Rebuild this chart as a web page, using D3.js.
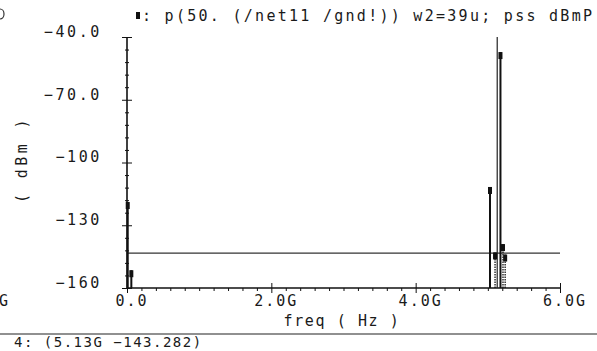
<!DOCTYPE html>
<html>
<head>
<meta charset="utf-8">
<script src="https://cdn.jsdelivr.net/npm/d3@7"></script>
<style>
  body { margin: 0; background: #fff; }
  svg { display: block; }
  text { font-family: "DejaVu Sans Mono", monospace; font-size: 14px; fill: #1a1a1a; letter-spacing: 2px; }
  .axis path, .axis line { stroke: #111; }
</style>
</head>
<body>
<svg id="chart"></svg>
<script>
const yTicks = [-40, -70, -100, -130, -160];
const yTickLabels = ["\u221240.0", "\u221270.0", "\u2212100", "\u2212130", "\u2212160"];
const xTicks = [0, 2, 4, 6];
const xTickLabels = ["0.0", "2.0G", "4.0G", "6.0G"];

// spectrum lines (GHz, dBm)
const spikeFreq = [0.01, 0.06, 5.03, 5.10, 5.175, 5.21, 5.24];
const spikeDbm = [-118.9, -151.5, -111.7, -143.0, -47.2, -139.0, -144.0];

// marker 4 cursor
const cursorFreq = 5.13;
const cursorDbm = -143.282;

const title = ": p(50. (/net11 /gnd!)) w2=39u;  pss dBmP";
const cursorText = "4: (5.13G \u2212143.282)";

const width = 597, height = 351;
const svg = d3.select("#chart").attr("width", width).attr("height", height);

const x = d3.scaleLinear().domain([0, 6]).range([127, 560]);
const y = d3.scaleLinear().domain([-160, -40]).range([288, 37]);

// minor ticks
const yMinor = d3.range(-160, -39.9, 6).filter(v => !yTicks.includes(v));
const xMinor = d3.range(0, 6.01, 0.2).filter(v => !xTicks.some(t => Math.abs(t - v) < 1e-6));

const axes = svg.append("g").attr("class", "axis");

// y axis
axes.append("g")
    .attr("transform", `translate(${x(0)},0)`)
    .call(d3.axisLeft(y).tickValues(yTicks).tickSize(5).tickPadding(20)
        .tickFormat((d, i) => yTickLabels[i]))
    .call(g => g.select(".domain").remove())
    .call(g => g.selectAll("text").attr("dy", "-0.05em")
        .attr("font-family", null).attr("font-size", null)
        .style("font-size", "15px").style("letter-spacing", "2.6px"));
axes.append("g")
    .attr("transform", `translate(${x(0)},0)`)
    .call(d3.axisRight(y).tickValues(yTicks).tickSize(5).tickFormat(""))
    .call(g => g.select(".domain").remove());
axes.append("g")
    .attr("transform", `translate(${x(0)},0)`)
    .call(d3.axisLeft(y).tickValues(yMinor).tickSize(2).tickFormat(""))
    .call(g => g.select(".domain").remove());
axes.append("g")
    .attr("transform", `translate(${x(0)},0)`)
    .call(d3.axisRight(y).tickValues(yMinor).tickSize(2).tickFormat(""))
    .call(g => g.select(".domain").remove());
axes.append("line")
    .attr("x1", x(0)).attr("x2", x(0))
    .attr("y1", y(-40)).attr("y2", y(-160))
    .attr("stroke", "#111").attr("stroke-width", 1.6);

// x axis
axes.append("g")
    .attr("transform", `translate(0,${y(-160)})`)
    .call(d3.axisBottom(x).tickValues(xTicks).tickSize(5).tickPadding(2)
        .tickFormat((d, i) => xTickLabels[i]))
    .call(g => g.select(".domain").remove())
    .call(g => g.selectAll("text").attr("dx", "0.3em")
        .attr("font-family", null).attr("font-size", null)
        .style("font-size", "15px"));
axes.append("g")
    .attr("transform", `translate(0,${y(-160)})`)
    .call(d3.axisTop(x).tickValues(xTicks).tickSize(5).tickFormat(""))
    .call(g => g.select(".domain").remove());
axes.append("g")
    .attr("transform", `translate(0,${y(-160)})`)
    .call(d3.axisBottom(x).tickValues(xMinor).tickSize(3).tickFormat(""))
    .call(g => g.select(".domain").remove());
axes.append("line")
    .attr("x1", x(0)).attr("x2", x(6))
    .attr("y1", y(-160)).attr("y2", y(-160))
    .attr("stroke", "#111").attr("stroke-width", 1.6);

// cursors
svg.append("line")
    .attr("x1", x(0)).attr("x2", x(6))
    .attr("y1", y(cursorDbm)).attr("y2", y(cursorDbm))
    .attr("stroke", "#333").attr("stroke-width", 1.3);
svg.append("line")
    .attr("x1", x(cursorFreq)).attr("x2", x(cursorFreq))
    .attr("y1", y(-40)).attr("y2", y(-160))
    .attr("stroke", "#222").attr("stroke-width", 1.2);

// spectrum lines + markers
const spikes = spikeFreq.map((f, i) => ({ f, v: spikeDbm[i] }));
const g = svg.append("g");
g.selectAll("line.spike")
    .data(spikes)
    .join("line")
    .attr("class", "spike")
    .attr("x1", d => x(d.f)).attr("x2", d => x(d.f))
    .attr("y1", y(-160)).attr("y2", d => y(d.v))
    .attr("stroke", "#111")
    .attr("stroke-width", d => (d.f > 1 && d.v < -130) ? 1.3 : 2)
    .attr("stroke-dasharray", d => (d.f > 1 && d.v < -130) ? "1.5,1" : null);
g.selectAll("rect.mark")
    .data(spikes)
    .join("rect")
    .attr("class", "mark")
    .attr("x", d => x(d.f) - 2)
    .attr("y", d => y(d.v))
    .attr("width", 4)
    .attr("height", 7)
    .attr("fill", "#111");

// title
svg.append("rect").attr("x", 136).attr("y", 12).attr("width", 4).attr("height", 7).attr("fill", "#111");
svg.append("text")
    .attr("x", 142).attr("y", 21)
    .attr("textLength", 452).attr("lengthAdjust", "spacing")
    .style("font-size", "15px")
    .text(title);

// axis titles
svg.append("text")
    .attr("transform", `translate(27,${(y(-40) + y(-160)) / 2 - 3}) rotate(-90)`)
    .attr("text-anchor", "middle")
    .style("font-size", "15px")
    .style("letter-spacing", "3.4px")
    .text("( dBm )");
svg.append("text")
    .attr("x", 342).attr("y", 326)
    .attr("text-anchor", "middle")
    .style("font-size", "15px")
    .style("letter-spacing", "1.6px")
    .text("freq ( Hz )");

// neighbouring-plot fragments at the left edge
svg.append("text").attr("x", -1).attr("y", 306).style("font-size", "15px").text("G");
svg.append("path")
    .attr("d", "M0,9 A4,5 0 0 1 0,19")
    .attr("fill", "none").attr("stroke", "#333").attr("stroke-width", 1.2);

// cursor readout
svg.append("line")
    .attr("x1", 0).attr("x2", width)
    .attr("y1", 334).attr("y2", 334)
    .attr("stroke", "#222").attr("stroke-width", 1.2);
svg.append("text").attr("x", 14).attr("y", 347).style("letter-spacing", "1.5px").text(cursorText);
</script>
</body>
</html>
